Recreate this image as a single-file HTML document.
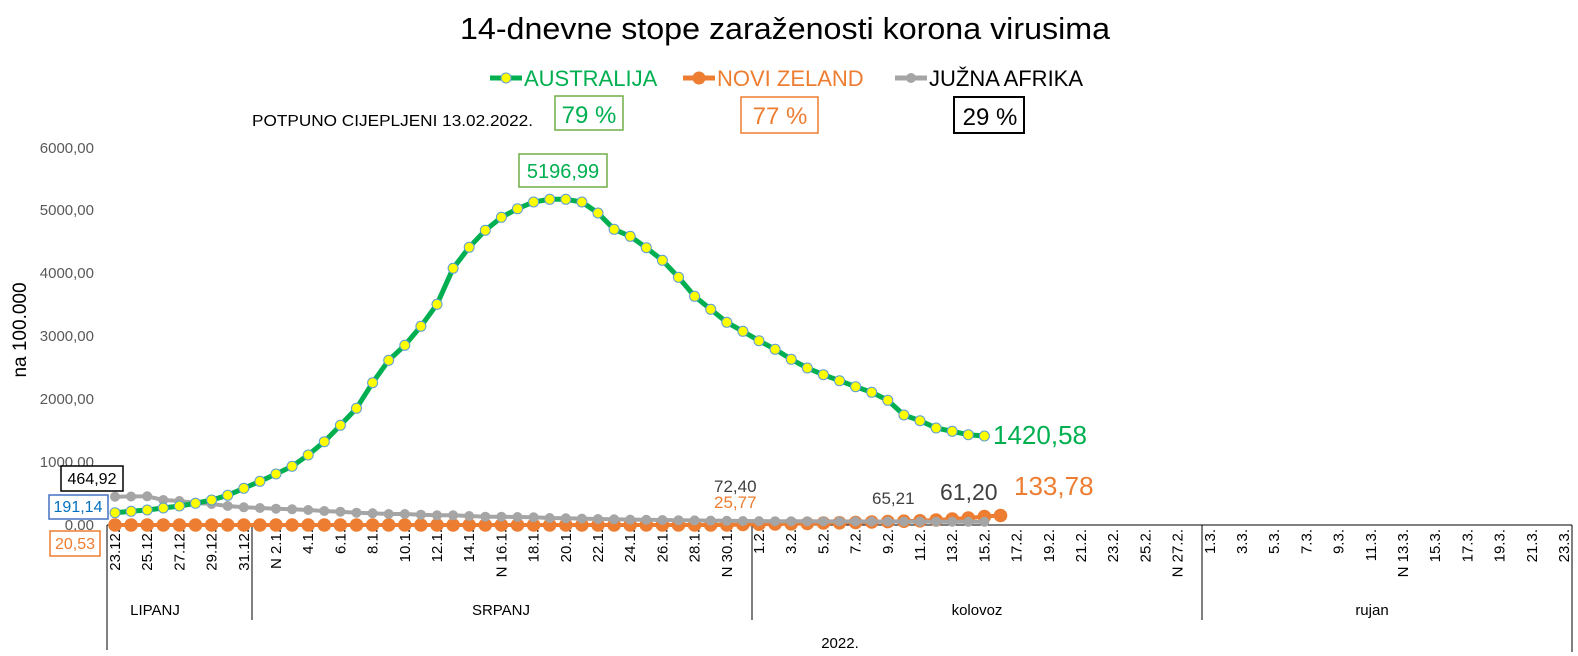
<!DOCTYPE html>
<html><head><meta charset="utf-8"><style>
html,body{margin:0;padding:0;background:#fff;}
svg{display:block;font-family:"Liberation Sans",sans-serif;}
</style></head><body>
<svg width="1578" height="656" viewBox="0 0 1578 656" xmlns="http://www.w3.org/2000/svg">
<defs>
<marker id="mg" markerUnits="userSpaceOnUse" markerWidth="14" markerHeight="14" refX="7" refY="7"><circle cx="7" cy="7" r="5" fill="#FFFF00" stroke="#5B9BD5" stroke-width="1"/></marker>
<marker id="mo" markerUnits="userSpaceOnUse" markerWidth="16" markerHeight="16" refX="8" refY="8"><circle cx="8" cy="8" r="6.8" fill="#ED7D31"/></marker>
<marker id="ma" markerUnits="userSpaceOnUse" markerWidth="14" markerHeight="14" refX="7" refY="7"><circle cx="7" cy="7" r="5" fill="#A5A5A5"/></marker>
</defs>
<text x="785" y="39" font-size="31" text-anchor="middle" fill="#000" textLength="650" lengthAdjust="spacingAndGlyphs">14-dnevne stope zaraženosti korona virusima</text>
<!-- legend -->
<line x1="490" y1="78" x2="522" y2="78" stroke="#00B050" stroke-width="5"/><circle cx="506" cy="78" r="5" fill="#FFFF00" stroke="#5B9BD5"/>
<text x="524" y="86" font-size="22" fill="#00B050">AUSTRALIJA</text>
<line x1="683" y1="78" x2="715" y2="78" stroke="#ED7D31" stroke-width="5"/><circle cx="699" cy="78" r="6.5" fill="#ED7D31"/>
<text x="717" y="86" font-size="22" fill="#ED7D31">NOVI ZELAND</text>
<line x1="895" y1="78" x2="927" y2="78" stroke="#A5A5A5" stroke-width="5"/><circle cx="911" cy="78" r="5" fill="#A5A5A5"/>
<text x="929" y="86" font-size="22" fill="#000">JUŽNA AFRIKA</text>
<text x="252" y="126" font-size="16" fill="#000" textLength="281" lengthAdjust="spacingAndGlyphs">POTPUNO CIJEPLJENI 13.02.2022.</text>
<rect x="555" y="96" width="68" height="34" fill="none" stroke="#70AD47" stroke-width="1.5"/>
<text x="589" y="123" font-size="24" text-anchor="middle" fill="#00B050">79 %</text>
<rect x="741" y="97" width="77" height="36" fill="none" stroke="#ED7D31" stroke-width="1.5"/>
<text x="780" y="124" font-size="24" text-anchor="middle" fill="#ED7D31">77 %</text>
<rect x="954" y="97" width="70" height="36" fill="none" stroke="#000" stroke-width="2"/>
<text x="990" y="125" font-size="24" text-anchor="middle" fill="#000">29 %</text>
<!-- y axis -->
<g font-size="15" fill="#595959" text-anchor="end">
<text x="94" y="153">6000,00</text><text x="94" y="215">5000,00</text><text x="94" y="278">4000,00</text>
<text x="94" y="341">3000,00</text><text x="94" y="404">2000,00</text><text x="94" y="467">1000,00</text><text x="94" y="530">0,00</text>
</g>
<text transform="translate(26,330) rotate(-90)" font-size="19" text-anchor="middle" fill="#000">na 100.000</text>
<!-- axes lines -->
<g stroke="#000" stroke-width="1">
<line x1="107" y1="525" x2="1572" y2="525"/>
<line x1="107" y1="525" x2="107" y2="650"/>
<line x1="1572" y1="525" x2="1572" y2="652"/>
<line x1="252" y1="525" x2="252" y2="620"/>
<line x1="752" y1="525" x2="752" y2="620"/>
<line x1="1202" y1="525" x2="1202" y2="620"/>
</g>
<g font-size="15" fill="#000">
<text x="155" y="615" text-anchor="middle">LIPANJ</text>
<text x="501" y="615" text-anchor="middle">SRPANJ</text>
<text x="977" y="615" text-anchor="middle">kolovoz</text>
<text x="1372" y="615" text-anchor="middle">rujan</text>
<text x="840" y="648" text-anchor="middle">2022.</text>
</g>
<g font-size="15" fill="#000" text-anchor="end">
<text transform="translate(120,529) rotate(-90)">23.12.</text>
<text transform="translate(152.2,529) rotate(-90)">25.12.</text>
<text transform="translate(184.4,529) rotate(-90)">27.12.</text>
<text transform="translate(216.6,529) rotate(-90)">29.12.</text>
<text transform="translate(248.8,529) rotate(-90)">31.12.</text>
<text transform="translate(281,529) rotate(-90)">N  2.1.</text>
<text transform="translate(313.2,529) rotate(-90)">4.1.</text>
<text transform="translate(345.4,529) rotate(-90)">6.1.</text>
<text transform="translate(377.6,529) rotate(-90)">8.1.</text>
<text transform="translate(409.8,529) rotate(-90)">10.1.</text>
<text transform="translate(442,529) rotate(-90)">12.1.</text>
<text transform="translate(474.2,529) rotate(-90)">14.1.</text>
<text transform="translate(506.4,529) rotate(-90)">N 16.1.</text>
<text transform="translate(538.6,529) rotate(-90)">18.1.</text>
<text transform="translate(570.8,529) rotate(-90)">20.1.</text>
<text transform="translate(603,529) rotate(-90)">22.1.</text>
<text transform="translate(635.2,529) rotate(-90)">24.1.</text>
<text transform="translate(667.4,529) rotate(-90)">26.1.</text>
<text transform="translate(699.6,529) rotate(-90)">28.1.</text>
<text transform="translate(731.8,529) rotate(-90)">N 30.1.</text>
<text transform="translate(764,529) rotate(-90)">1.2.</text>
<text transform="translate(796.2,529) rotate(-90)">3.2.</text>
<text transform="translate(828.4,529) rotate(-90)">5.2.</text>
<text transform="translate(860.6,529) rotate(-90)">7.2.</text>
<text transform="translate(892.8,529) rotate(-90)">9.2.</text>
<text transform="translate(925,529) rotate(-90)">11.2.</text>
<text transform="translate(957.2,529) rotate(-90)">13.2.</text>
<text transform="translate(989.4,529) rotate(-90)">15.2.</text>
<text transform="translate(1021.6,529) rotate(-90)">17.2.</text>
<text transform="translate(1053.8,529) rotate(-90)">19.2.</text>
<text transform="translate(1086,529) rotate(-90)">21.2.</text>
<text transform="translate(1118.2,529) rotate(-90)">23.2.</text>
<text transform="translate(1150.4,529) rotate(-90)">25.2.</text>
<text transform="translate(1182.6,529) rotate(-90)">N 27.2.</text>
<text transform="translate(1214.8,529) rotate(-90)">1.3.</text>
<text transform="translate(1247,529) rotate(-90)">3.3.</text>
<text transform="translate(1279.2,529) rotate(-90)">5.3.</text>
<text transform="translate(1311.4,529) rotate(-90)">7.3.</text>
<text transform="translate(1343.6,529) rotate(-90)">9.3.</text>
<text transform="translate(1375.8,529) rotate(-90)">11.3.</text>
<text transform="translate(1408,529) rotate(-90)">N 13.3.</text>
<text transform="translate(1440.2,529) rotate(-90)">15.3.</text>
<text transform="translate(1472.4,529) rotate(-90)">17.3.</text>
<text transform="translate(1504.6,529) rotate(-90)">19.3.</text>
<text transform="translate(1536.8,529) rotate(-90)">21.3.</text>
<text transform="translate(1569,529) rotate(-90)">23.3.</text>
</g>
<!-- orange series -->
<polyline fill="none" stroke="#ED7D31" stroke-width="4" stroke-linejoin="round" marker-start="url(#mo)" marker-mid="url(#mo)" marker-end="url(#mo)"
points="115,525 131.1,525 147.2,525 163.3,525 179.4,525 195.5,525 211.6,525 227.7,525 243.8,525 259.9,525 276,525 292.1,525 308.2,525 324.3,525 340.4,525 356.5,525 372.6,525 388.7,525 404.8,525 420.9,525 437,525 453.1,525 469.2,525 485.3,525 501.4,525 517.5,525 533.6,525 549.7,525 565.8,525 581.9,525 598,525 614.1,525 630.2,525 646.3,525 662.4,525 678.5,525 694.6,525 710.7,525 726.8,525 742.9,524.5 759,524.2 775.1,524 791.2,523.8 807.3,523.5 823.4,523 839.5,522.8 855.6,522.5 871.7,522 887.8,521.6 903.9,521.2 920,520.8 936.1,520 952.2,519 968.3,518 984.4,516.5 1000.5,515.5"/>
<!-- gray series -->
<polyline fill="none" stroke="#A5A5A5" stroke-width="4" stroke-linejoin="round" marker-start="url(#ma)" marker-mid="url(#ma)" marker-end="url(#ma)"
points="115,496.7 131.1,496.5 147.2,496.3 163.3,500 179.4,501 195.5,502.7 211.6,504 227.7,506 243.8,507.3 259.9,508 276,508.7 292.1,509.3 308.2,510 324.3,511 340.4,511.7 356.5,512.7 372.6,513.3 388.7,514 404.8,514 420.9,514.7 437,515.3 453.1,515.3 469.2,516 485.3,516.7 501.4,516.7 517.5,517 533.6,517.3 549.7,518 565.8,518.3 581.9,518.6 598,519 614.1,519.3 630.2,519.6 646.3,519.8 662.4,520 678.5,520.2 694.6,520.4 710.7,520.6 726.8,520.8 742.9,521 759,521.1 775.1,521.2 791.2,521.3 807.3,521.3 823.4,521.4 839.5,521.4 855.6,521.5 871.7,521.5 887.8,521.5 903.9,521.6 920,521.6 936.1,521.7 952.2,521.7 968.3,521.8 984.4,521.8"/>
<!-- green series -->
<polyline fill="none" stroke="#00B050" stroke-width="5" stroke-linejoin="round" marker-start="url(#mg)" marker-mid="url(#mg)" marker-end="url(#mg)"
points="115,512.7 131.1,511.3 147.2,510 163.3,508 179.4,506 195.5,503.3 211.6,500 227.7,495.3 243.8,488.3 259.9,481.3 276,474 292.1,466.3 308.2,455 324.3,441.7 340.4,425.3 356.5,408.3 372.6,382.7 388.7,360.3 404.8,345.3 420.9,326.3 437,304.3 453.1,268.3 469.2,247.3 485.3,230.3 501.4,217.3 517.5,208.7 533.6,202 549.7,199.3 565.8,199.3 581.9,202 598,213 614.1,229.3 630.2,236.3 646.3,247.7 662.4,260.3 678.5,277.3 694.6,296.3 710.7,309.3 726.8,322.3 742.9,331.3 759,340.7 775.1,349.3 791.2,359.3 807.3,368 823.4,374.7 839.5,380.7 855.6,386.7 871.7,392.3 887.8,400.3 903.9,415 920,420.7 936.1,428 952.2,431.3 968.3,434.7 984.4,436"/>
<!-- data labels -->
<rect x="519" y="154" width="88" height="33" fill="#fff" stroke="#70AD47" stroke-width="1.5"/>
<text x="563" y="178" font-size="20" text-anchor="middle" fill="#00B050">5196,99</text>
<text x="993" y="444" font-size="26" fill="#00B050">1420,58</text>
<text x="1014" y="495" font-size="26" fill="#ED7D31">133,78</text>
<text x="940" y="500" font-size="23" fill="#404040">61,20</text>
<text x="872" y="504" font-size="17" fill="#404040">65,21</text>
<text x="714" y="492" font-size="17" fill="#404040">72,40</text>
<text x="714" y="508" font-size="17" fill="#ED7D31">25,77</text>
<rect x="61" y="466" width="62" height="25" fill="#fff" stroke="#000" stroke-width="1.5"/>
<text x="92" y="484" font-size="16" text-anchor="middle" fill="#000">464,92</text>
<rect x="49" y="495" width="59" height="24" fill="#fff" stroke="#4472C4" stroke-width="1.5"/>
<text x="78" y="512" font-size="16" text-anchor="middle" fill="#0070C0">191,14</text>
<rect x="50" y="531" width="50" height="25" fill="#fff" stroke="#ED7D31" stroke-width="1.5"/>
<text x="75" y="549" font-size="16" text-anchor="middle" fill="#ED7D31">20,53</text>
</svg>
</body></html>
